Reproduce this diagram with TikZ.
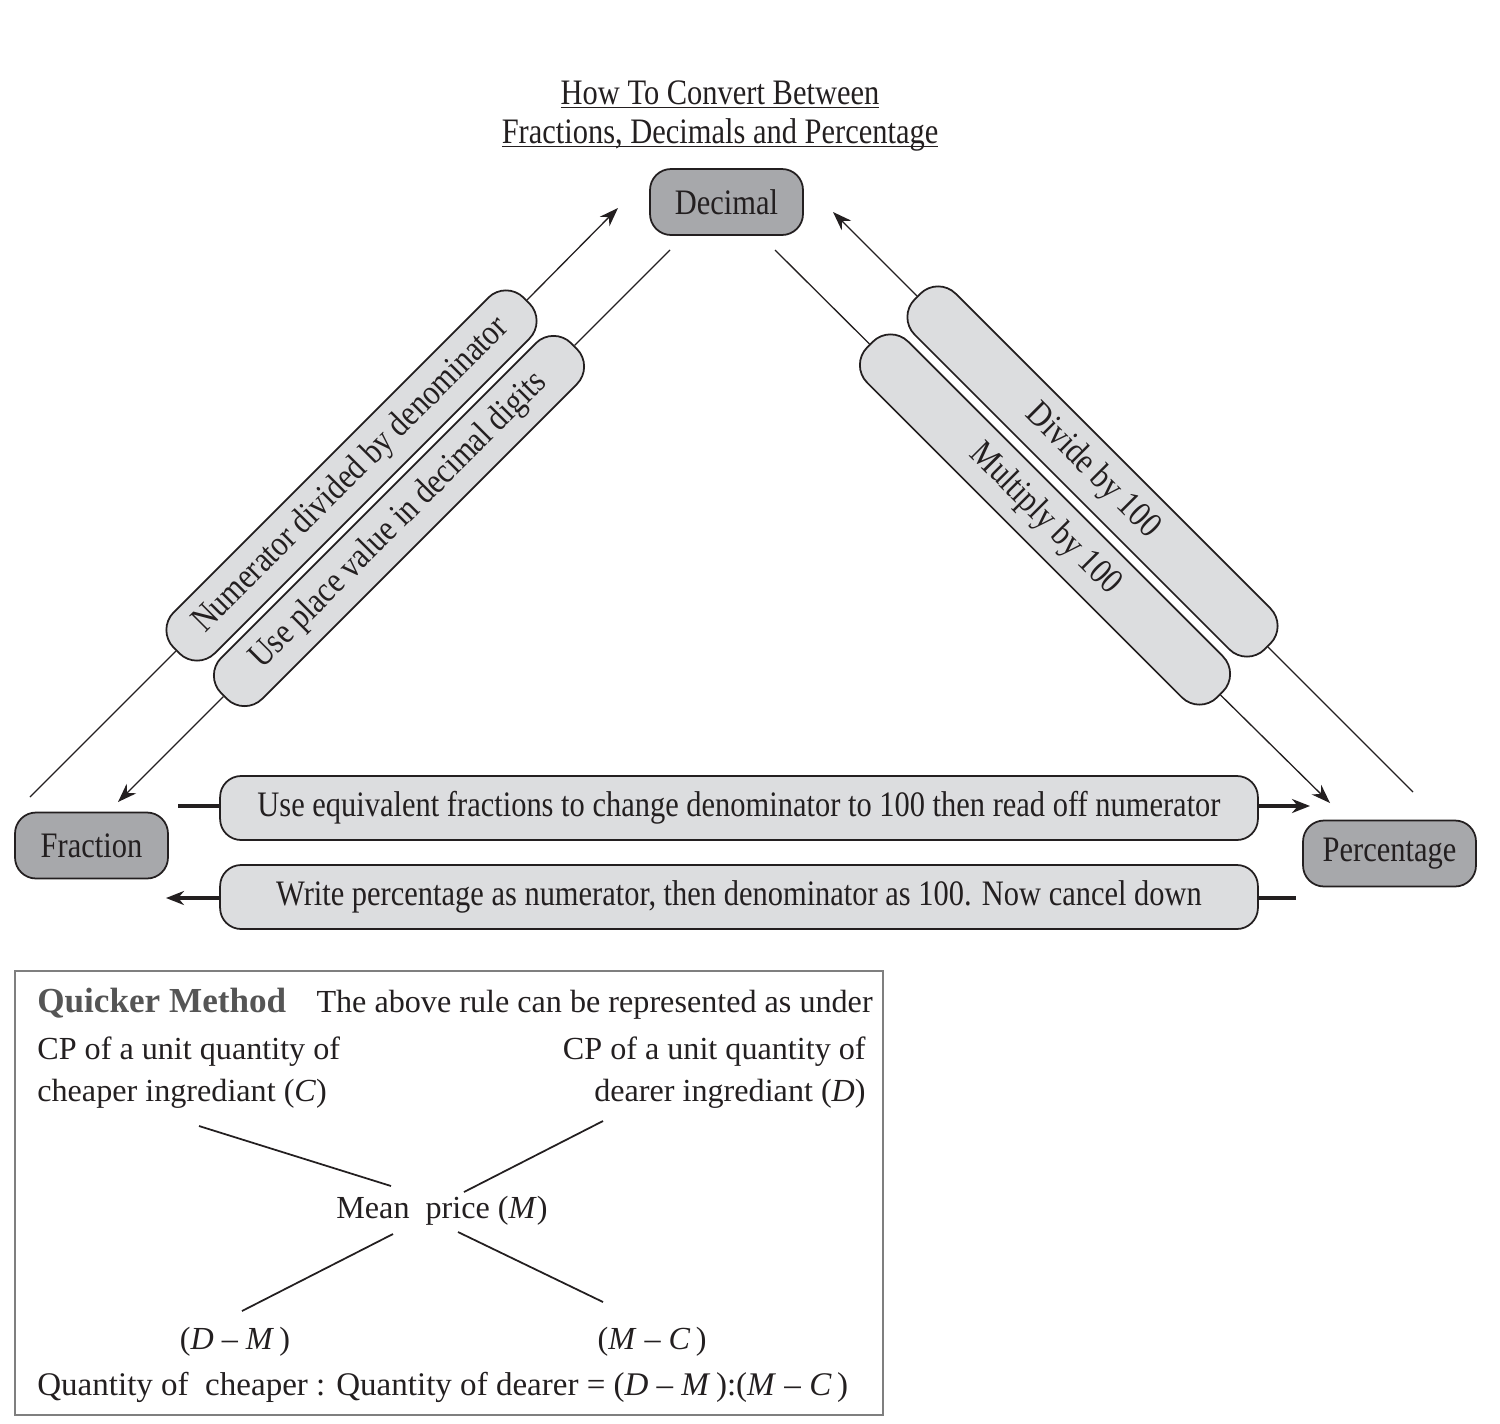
\documentclass[tikz,border=0pt]{standalone}
\usepackage{fontspec}
\setmainfont{Liberation Serif}
\newfontfamily\narrow[FakeStretch=0.85]{Liberation Serif}
\usetikzlibrary{arrows.meta}

\definecolor{kindgray}{HTML}{A7A8AB}
\definecolor{bargray}{HTML}{DCDDDF}
\definecolor{ink}{HTML}{231F20}
\definecolor{framegray}{HTML}{7F7F7F}
\definecolor{headgray}{HTML}{555555}

\tikzset{
  kind/.style={draw=ink, line width=1pt, fill=kindgray, rounded corners=0.42cm,
    minimum height=1.32cm, inner sep=0pt, font=\narrow\fontsize{20.4pt}{24pt}\selectfont, text=ink},
  rulebar/.style={draw=ink, line width=1pt, fill=bargray, rounded corners=0.5cm,
    minimum height=1.16cm, minimum width=9.9cm, inner sep=0pt,
    font=\narrow\fontsize{20.4pt}{24pt}\selectfont, text=ink},
  flatbar/.style={rulebar, rounded corners=0.42cm, minimum height=1.28cm, minimum width=20.76cm},
  conn/.style={draw=ink, line width=0.75pt},
  arr/.style={conn, -{Stealth[length=0.38cm,width=0.27cm]}},
  fat/.style={draw=ink, line width=1.8pt},
  fatarr/.style={fat, -{Stealth[length=0.36cm,width=0.28cm]}},
  boxtext/.style={inner sep=0pt, text=ink, font=\fontsize{18.3pt}{24.4pt}\selectfont}
}

\begin{document}
\begin{tikzpicture}[x=0.02cm, y=-0.02cm]
  \useasboundingbox (0,0) rectangle (1500,1423);

  %title
  \node[inner sep=0pt, align=center, text=ink, font=\narrow\fontsize{20.4pt}{22.1pt}\selectfont] (title) at (720,114)
     {\underline{How To Convert Between}\\\underline{\smash{Fractions, Decimals and Percentage}}};

  %the three kinds
  \node[kind, minimum width=3.06cm] (dec) at (726.5,202) {Decimal};
  \node[kind, minimum width=3.06cm] (frac) at (91.5,845.5) {Fraction};
  \node[kind, minimum width=3.46cm] (perc) at (1389.5,853.5) {Percentage};

  %free ends of the connectors
  \coordinate (fs1) at (30,797);   \coordinate (dt1) at (618,208);
  \coordinate (ds1) at (670,250);  \coordinate (ft1) at (118,802);
  \coordinate (dt2) at (833,212);  \coordinate (ps1) at (1413,792);
  \coordinate (ds2) at (775,250);  \coordinate (pt1) at (1330,803);
  \coordinate (fe1) at (178,806);  \coordinate (pe1) at (1310,806);
  \coordinate (pe2) at (1296,898); \coordinate (fe2) at (166,898);

  %diagonal rules
  \foreach \name/\x/\y/\ang/\txt in {nbar/351.5/475.5/45/Numerator divided by denominator,
      ubar/399/521/45/Use place value in decimal digits,
      dbar/1092.5/471.5/-45/Divide by 100,
      mbar/1045/519.5/-45/Multiply by 100}{
    \node[rulebar, rotate=\ang] (\name) at (\x,\y) {\txt};
  }

  \draw[conn] (fs1) -- (nbar.west);
  \draw[arr] (nbar.east) -- (dt1);
  \draw[conn] (ds1) -- (ubar.east);
  \draw[arr] (ubar.west) -- (ft1);
  \draw[arr] (dbar.west) -- (dt2);
  \draw[conn] (ps1) -- (dbar.east);
  \draw[conn] (ds2) -- (mbar.west);
  \draw[arr] (mbar.east) -- (pt1);

  %flat rules
  \node[flatbar] (fpbar) at (739,808) {Use equivalent fractions to change denominator to 100 then read off numerator};
  \node[flatbar] (pfbar) at (739,897) {Write percentage as numerator, then denominator as 100. Now cancel down};

  \draw[fat] (fe1) -- (fe1 -| fpbar.west);
  \draw[fatarr] (pe1 -| fpbar.east) -- (pe1);
  \draw[fat] (pe2) -- (pe2 -| pfbar.east);
  \draw[fatarr] (fe2 -| pfbar.west) -- (fe2);

  %quicker method
  \draw[framegray, line width=1.2pt] (15,971) rectangle (883,1415);

  \node[boxtext, anchor=base west, text=headgray, font=\bfseries\fontsize{20pt}{24.4pt}\selectfont] (quick) at (37,1012) {Quicker Method};
  \node[boxtext, anchor=base east] (rule) at (873,1012) {The above rule can be represented as under};
  \node[boxtext, anchor=north west, align=left] (cheap) at (37,1036)
     {CP of a unit quantity of\\cheaper ingrediant (\textit{C})};
  \node[boxtext, anchor=north east, align=right] (dear) at (866,1036)
     {CP of a unit quantity of\\dearer ingrediant (\textit{D})};
  \node[boxtext] (mean) at (442,1211) {Mean\ \ price (\textit{M})};
  \node[boxtext] (dm) at (235,1342) {(\textit{D} -- \textit{M}\,)};
  \node[boxtext] (mc) at (652,1342) {(\textit{M} -- \textit{C}\,)};
  \node[boxtext, anchor=base west, font=\fontsize{18.8pt}{24.4pt}\selectfont] (ratio) at (37,1395)
     {Quantity of\ \ cheaper : Quantity of dearer = (\textit{D} -- \textit{M}\,):(\textit{M} -- \textit{C}\,)};

  \coordinate (c1) at (199,1126); \coordinate (c2) at (391,1186);
  \coordinate (d1) at (603,1121); \coordinate (d2) at (464,1192);
  \coordinate (m1) at (393,1234); \coordinate (m2) at (242,1311);
  \coordinate (m3) at (458,1232); \coordinate (m4) at (603,1302);

  \draw[conn, line width=1pt] (c1) -- (c2);
  \draw[conn, line width=1pt] (d1) -- (d2);
  \draw[conn, line width=1pt] (m1) -- (m2);
  \draw[conn, line width=1pt] (m3) -- (m4);

\end{tikzpicture}
\end{document}
